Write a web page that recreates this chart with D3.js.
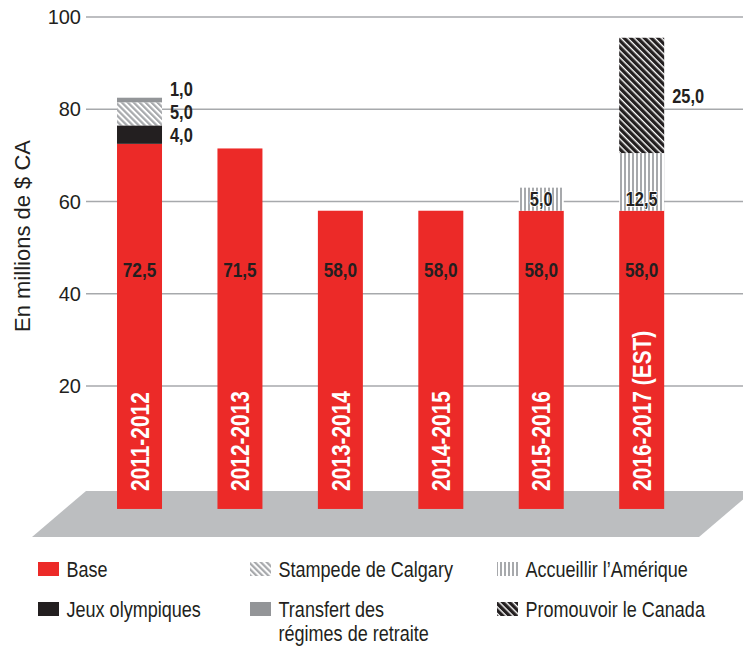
<!DOCTYPE html>
<html lang="fr">
<head>
<meta charset="utf-8">
<script src="https://cdn.jsdelivr.net/npm/d3@7"></script>
<style>
  html, body { margin: 0; padding: 0; background: #fff; }
  svg { display: block; }
  text { font-family: "Liberation Sans", Arial, Helvetica, sans-serif; }
</style>
</head>
<body>
<svg id="chart" width="743" height="647"></svg>
<script>
// Budget by fiscal year, in millions of Canadian dollars
const categories = ["2011-2012", "2012-2013", "2013-2014", "2014-2015", "2015-2016", "2016-2017 (EST)"];
const base       = [72.5, 71.5, 58.0, 58.0, 58.0, 58.0];
const jeux       = [4.0, 0, 0, 0, 0, 0];
const stampede   = [5.0, 0, 0, 0, 0, 0];
const transfert  = [1.0, 0, 0, 0, 0, 0];
const accueillir = [0, 0, 0, 0, 5.0, 12.5];
const promouvoir = [0, 0, 0, 0, 0, 25.0];
const yTicks = [20, 40, 60, 80, 100];

const seriesKeys   = ["base", "jeux", "stampede", "transfert", "accueillir", "promouvoir"];
const seriesValues = { base, jeux, stampede, transfert, accueillir, promouvoir };
const seriesNames  = {
  base: ["Base"],
  stampede: ["Stampede de Calgary"],
  accueillir: ["Accueillir l’Amérique"],
  jeux: ["Jeux olympiques"],
  transfert: ["Transfert des", "régimes de retraite"],
  promouvoir: ["Promouvoir le Canada"]
};

const RED = "#ec2a28", DARK = "#231f20", GRID = "#a7a9ac", FLOOR = "#bcbec0";
const NARROW = 0.82; // horizontal squeeze for the condensed type

const svg = d3.select("#chart");
const W = 743;

const table = categories.map((c, i) => {
  const row = { cat: c };
  seriesKeys.forEach(k => row[k] = seriesValues[k][i]);
  return row;
});
const stacked = d3.stack().keys(seriesKeys)(table);

const x = d3.scaleBand().domain(categories).range([66.8, 714.4]).paddingInner(0.552).paddingOuter(0.5);
const y = d3.scaleLinear().domain([20, 100]).range([386, 17]);

// Condensed text: anchored at (px, py), optionally rotated, squeezed along its run
function narrowText(parent, px, py, str, opts = {}) {
  const rot = opts.rotate ? ` rotate(${opts.rotate})` : "";
  return parent.append("text")
    .attr("transform", `translate(${px},${py})${rot} scale(${NARROW},1)`)
    .attr("text-anchor", opts.anchor || "start")
    .attr("dy", opts.dy || null)
    .attr("font-size", opts.size || 20)
    .attr("font-weight", opts.bold ? "bold" : null)
    .attr("fill", opts.fill || DARK)
    .text(str);
}

// Hatch patterns
const defs = svg.append("defs");
function stripes(id, period, stripeW, color, bg, angle) {
  const p = defs.append("pattern").attr("id", id)
    .attr("patternUnits", "userSpaceOnUse")
    .attr("width", period).attr("height", period);
  if (angle) p.attr("patternTransform", `rotate(${angle})`);
  p.append("rect").attr("width", period).attr("height", period).attr("fill", bg);
  p.append("rect").attr("width", stripeW).attr("height", period).attr("fill", color);
}
stripes("p-stampede", 4.2, 2.2, "#a7a9ac", "#fff", -45);
stripes("p-accueillir", 4, 2, "#a7a9ac", "#fff", 0);
stripes("p-promouvoir", 4.8, 3.4, DARK, "#fff", -45);

const fills = {
  base: RED,
  jeux: DARK,
  stampede: "url(#p-stampede)",
  transfert: "#939598",
  accueillir: "url(#p-accueillir)",
  promouvoir: "url(#p-promouvoir)"
};

// Gridlines and tick labels
const gridX0 = 86;
const axis = svg.append("g").attr("class", "axis");
axis.selectAll("line").data(yTicks).join("line")
  .attr("x1", gridX0).attr("x2", W)
  .attr("y1", d => y(d)).attr("y2", d => y(d))
  .attr("stroke", GRID).attr("stroke-width", 1.4);
axis.selectAll("text").data(yTicks).join("text")
  .attr("x", 81).attr("y", d => y(d))
  .attr("dy", "0.36em")
  .attr("text-anchor", "end")
  .attr("font-size", 20)
  .attr("fill", DARK)
  .text(d => d);

// Axis title
svg.append("text")
  .attr("transform", `translate(30,236) rotate(-90)`)
  .attr("text-anchor", "middle")
  .attr("font-size", 22)
  .attr("fill", DARK)
  .text("En millions de $ CA");

// Floor (3D base plate)
const floorTop = y(0) + 12.7, floorBot = floorTop + 46, slant = 54;
svg.append("path")
  .attr("d", `M${gridX0},${floorTop} L${W + 10},${floorTop} L${W + 10 - slant},${floorBot} L${gridX0 - slant},${floorBot} Z`)
  .attr("fill", FLOOR);

// Bars extend down onto the plate
const barBottom = y(0) + 30.7;
const gBars = svg.append("g");
stacked.forEach(layer => {
  gBars.append("g").selectAll("rect")
    .data(layer.filter(d => d[1] - d[0] > 0))
    .join("rect")
    .attr("x", d => x(d.data.cat))
    .attr("width", x.bandwidth())
    .attr("y", d => y(d[1]))
    .attr("height", d => (layer.key === "base" ? barBottom : y(d[0])) - y(d[1]))
    .attr("fill", fills[layer.key]);
});

const fmt = v => d3.format(".1f")(v).replace(".", ",");
const gLabels = svg.append("g");

// Base value labels
table.forEach(d => {
  narrowText(gLabels, x(d.cat) + x.bandwidth() / 2, 277, fmt(d.base),
    { anchor: "middle", size: 21, bold: true });
});

// Category labels, rotated inside the bars
categories.forEach(c => {
  narrowText(gLabels, x(c) + x.bandwidth() / 2, floorTop, c,
    { rotate: -90, dy: "0.36em", size: 25.5, bold: true, fill: "#fff" });
});

// Segment labels: beside the bar, or inside for the Accueillir segment
categories.forEach((c, i) => {
  let lastY = Infinity;
  stacked.slice(1).forEach(layer => {
    const d = layer[i];
    const v = d[1] - d[0];
    if (v <= 0) return;
    if (layer.key === "accueillir") {
      narrowText(gLabels, x(c) + x.bandwidth() / 2, y(d[0]) - 12, fmt(v),
        { anchor: "middle", dy: "0.36em", size: 20, bold: true })
        .attr("stroke", "#fff").attr("stroke-width", 1.5).attr("paint-order", "stroke");
    } else {
      let ly = (y(d[0]) + y(d[1])) / 2;
      ly = Math.min(ly, lastY - 23);
      lastY = ly;
      narrowText(gLabels, x(c) + x.bandwidth() + 8, ly, fmt(v),
        { dy: "0.36em", size: 20, bold: true });
    }
  });
});

// Legend
const legendItems = [
  { key: "base", col: 0, row: 0 },
  { key: "stampede", col: 1, row: 0 },
  { key: "accueillir", col: 2, row: 0 },
  { key: "jeux", col: 0, row: 1 },
  { key: "transfert", col: 1, row: 1 },
  { key: "promouvoir", col: 2, row: 1 }
];
const colX = [38, 250, 497];
const rowY = [577, 617];
const lg = svg.append("g");
legendItems.forEach(it => {
  const gx = colX[it.col], gy = rowY[it.row];
  lg.append("rect")
    .attr("x", gx).attr("y", gy - 15)
    .attr("width", 21).attr("height", 14)
    .attr("fill", fills[it.key]);
  seriesNames[it.key].forEach((line, j) => {
    narrowText(lg, gx + 28.5, gy + j * 24, line, { size: 22 });
  });
});
</script>
</body>
</html>
